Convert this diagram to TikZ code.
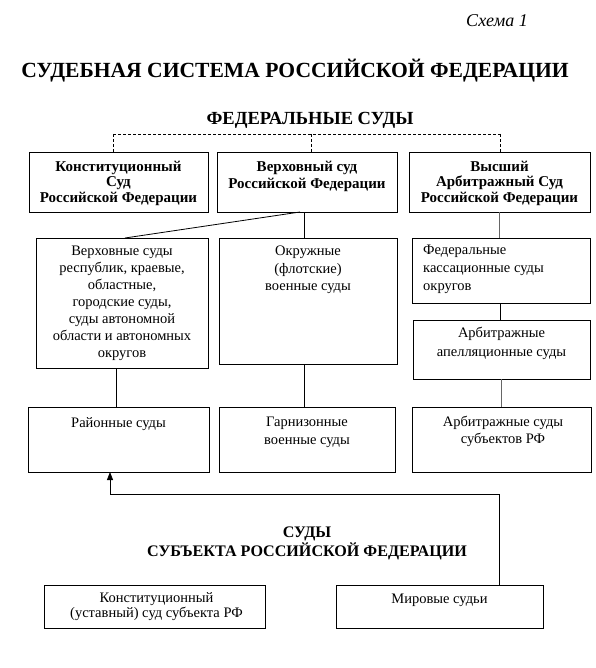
\documentclass[tikz,border=0pt]{standalone}
\usepackage{fontspec}
\setmainfont{Liberation Serif}
\usetikzlibrary{arrows.meta}
\begin{document}
\begin{tikzpicture}[x=1pt,y=-1pt,
  box/.style={draw, line width=0.8pt, inner sep=0pt, outer sep=0pt, anchor=north west},
  txt/.style={inner sep=0pt, anchor=north, align=center, font=\fontsize{14.5}{17}\selectfont},
  btxt/.style={inner sep=0pt, anchor=north, align=center, font=\bfseries\fontsize{15}{15.5}\selectfont},
  link/.style={line width=0.8pt},
  glink/.style={line width=0.8pt, draw=black!60},
  dlink/.style={line width=0.8pt, dash pattern=on 3pt off 2pt},
  head/.style={inner sep=0pt, anchor=base, font=\bfseries\fontsize{18.5}{18.5}\selectfont},
]
\useasboundingbox (0,0) rectangle (595,668);

% headings
\node[inner sep=0pt, anchor=base, font=\itshape\fontsize{18}{18}\selectfont] (schema) at (497,27) {Схема 1};
\node[inner sep=0pt, anchor=base, font=\bfseries\fontsize{21.6}{21.6}\selectfont] (title) at (295,78) {СУДЕБНАЯ СИСТЕМА РОССИЙСКОЙ ФЕДЕРАЦИИ};
\node[head] (fed) at (310,125) {ФЕДЕРАЛЬНЫЕ СУДЫ};
\node[inner sep=0pt, anchor=north, align=center, font=\bfseries\fontsize{16.1}{19}\selectfont] (subj) at (307,527) {СУДЫ\\СУБЪЕКТА РОССИЙСКОЙ ФЕДЕРАЦИИ};

% top row
\node[box, minimum width=179pt, minimum height=60pt] (k1) at (29,152) {};
\node[box, minimum width=180pt, minimum height=60pt] (k2) at (217,152) {};
\node[box, minimum width=181pt, minimum height=60pt] (k3) at (409,152) {};
\node[btxt] (k1t) at ([yshift=-8.5pt]k1.north) {Конституционный\\Суд\\Российской Федерации};
\node[btxt, font=\bfseries\fontsize{15}{17.6}\selectfont] (k2t) at ([yshift=-8.5pt]k2.north) {Верховный суд\\Российской Федерации};
\node[btxt] (k3t) at ([yshift=-8.5pt]k3.north) {Высший\\Арбитражный Суд\\Российской Федерации};

% middle row
\node[box, minimum width=172pt, minimum height=130pt] (m1) at (36,238) {};
\node[box, minimum width=178pt, minimum height=126pt] (m2) at (219,238) {};
\node[box, minimum width=178pt, minimum height=65pt] (m3) at (412,238) {};
\node[box, minimum width=177pt, minimum height=59pt] (m4) at (413,320) {};
\node[txt] (m1t) at ([yshift=-8pt]m1.north) {Верховные суды\\республик, краевые,\\областные,\\городские суды,\\суды автономной\\области и автономных\\округов};
\node[txt, font=\fontsize{14.5}{17.5}\selectfont] (m2t) at ([yshift=-8pt]m2.north) {Окружные\\(флотские)\\военные суды};
\node[txt, anchor=north west, align=left, font=\fontsize{14.5}{18}\selectfont] (m3t) at ([xshift=11pt,yshift=-7pt]m3.north west) {Федеральные\\кассационные суды\\округов};
\node[txt, font=\fontsize{14.5}{19}\selectfont] (m4t) at ([yshift=-7pt]m4.north) {Арбитражные\\апелляционные суды};

% bottom row
\node[box, minimum width=181pt, minimum height=65pt] (b1) at (28,407) {};
\node[box, minimum width=176pt, minimum height=65pt] (b2) at (219,407) {};
\node[box, minimum width=179pt, minimum height=65pt] (b3) at (412,407) {};
\node[txt] (b1t) at ([yshift=-10pt]b1.north) {Районные суды};
\node[txt, font=\fontsize{14.5}{18}\selectfont] (b2t) at ([yshift=-10pt]b2.north) {Гарнизонные\\военные суды};
\node[txt] (b3t) at ([xshift=1.5pt,yshift=-8.5pt]b3.north) {Арбитражные суды\\субъектов РФ};

% subject courts
\node[box, minimum width=221pt, minimum height=43pt] (s1) at (44,585) {};
\node[box, minimum width=207pt, minimum height=43pt] (s2) at (336,585) {};
\node[txt, font=\fontsize{14.5}{15.5}\selectfont] (s1t) at ([xshift=2pt,yshift=-7pt]s1.north) {Конституционный\\(уставный) суд субъекта РФ};
\node[txt] (s2t) at ([yshift=-9pt]s2.north) {Мировые судьи};

% dashed bus
\coordinate (dl) at (113,134);
\coordinate (dm) at (311,134);
\coordinate (dr) at (500,134);
\draw[dlink] (dl) -- (dr);
\draw[dlink] (dl) -- (dl |- k1.north);
\draw[dlink] (dm) -- (dm |- k2.north);
\draw[dlink] (dr) -- (dr |- k3.north);

% connectors
\draw[link] ([xshift=-7pt]k2.south) -- ([xshift=3pt]m1.north);
\draw[link] ([xshift=-4pt]m2.north) -- ([xshift=-4pt]m2.north |- k2.south);
\draw[glink] (k3.south) -- (k3.south |- m3.north);
\draw[link] ([xshift=-1pt]m3.south) -- ([xshift=-1pt]m3.south |- m4.north);
\draw[glink] (b3.north) -- (b3.north |- m4.south);
\draw[link] ([xshift=-2.5pt]b1.north) -- ([xshift=-2.5pt]b1.north |- m1.south);
\draw[link] ([xshift=-4pt]m2.south) -- ([xshift=-4pt]m2.south |- b2.north);

\coordinate (jl) at (110,494);
\draw[link, -{Triangle[width=6pt,length=8pt]}] ([xshift=59.5pt]s2.north) |- (jl) -- ([xshift=-8.5pt]b1.south);
\end{tikzpicture}
\end{document}
